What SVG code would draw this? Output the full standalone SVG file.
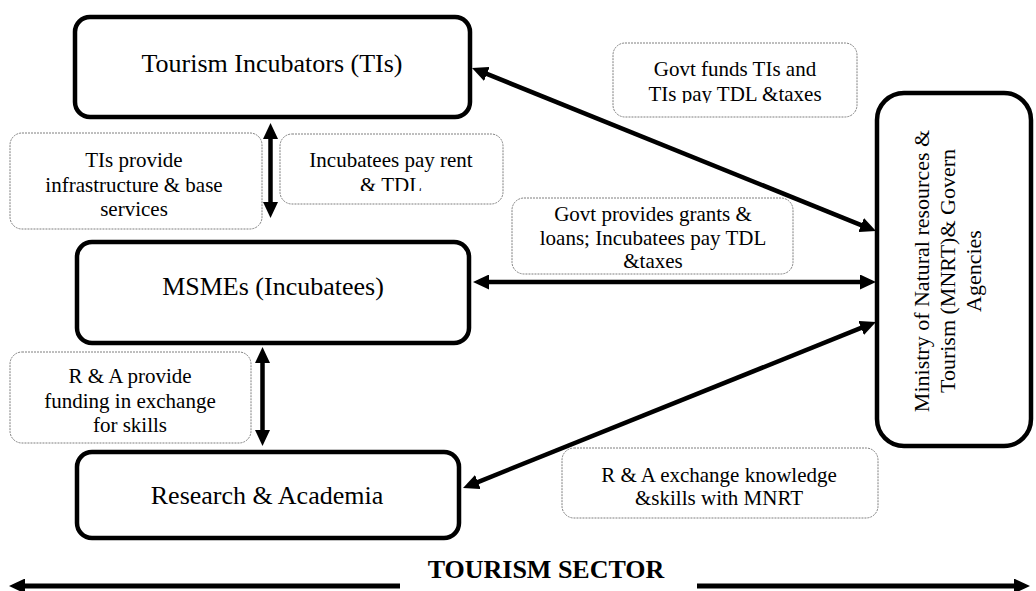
<svg xmlns="http://www.w3.org/2000/svg" width="1036" height="591" viewBox="0 0 1036 591">
<style>
.node{fill:#fff;stroke:#000;stroke-width:4.5}
.lbl{fill:#fff;stroke:#7f7f7f;stroke-width:1;stroke-dasharray:2 1}
.t{font-family:"Liberation Serif","Times New Roman",serif;fill:#000;text-anchor:middle}
.big{font-size:26px}
.sm{font-size:21px}
.min{font-size:22px}
.bold{font-size:26px;font-weight:bold}
.con{stroke:#000;stroke-width:4.5;fill:none;marker-start:url(#ah);marker-end:url(#ah)}
.one{stroke:#000;stroke-width:5;fill:none;marker-end:url(#ah)}
</style>
<defs>
<marker id="ah" markerUnits="userSpaceOnUse" markerWidth="16" markerHeight="15" refX="6" refY="7.5" orient="auto-start-reverse">
<path d="M0,0 L16,7.5 L0,15 z" fill="#000"/>
</marker>
<clipPath id="c1"><rect x="10" y="133" width="252" height="84"/></clipPath>
<clipPath id="c2"><rect x="280" y="134" width="223" height="57"/></clipPath>
<clipPath id="c3"><rect x="613" y="43" width="244" height="60"/></clipPath>
</defs>
<rect width="1036" height="591" fill="#fff"/>

<g id="label-ti-provide">
<rect class="lbl" x="10" y="133" width="252" height="96" rx="12"/>
<text class="t sm" clip-path="url(#c1)"><tspan x="134" y="167">TIs provide</tspan><tspan x="134" y="192">infrastructure &amp; base</tspan><tspan x="134" y="216">services</tspan></text>
</g>
<g id="label-rent">
<rect class="lbl" x="280" y="134" width="223" height="70" rx="12"/>
<text class="t sm" clip-path="url(#c2)"><tspan x="391" y="167">Incubatees pay rent</tspan><tspan x="391" y="192">&amp; TDL</tspan></text>
</g>
<g id="label-govt-funds">
<rect class="lbl" x="613" y="43" width="244" height="74" rx="12"/>
<text class="t sm" clip-path="url(#c3)"><tspan x="735" y="76">Govt funds TIs and</tspan><tspan x="735" y="101">TIs pay TDL &amp;taxes</tspan></text>
</g>
<g id="label-govt-grants">
<rect class="lbl" x="512" y="198" width="281" height="76" rx="12"/>
<text class="t sm"><tspan x="653" y="221">Govt provides grants &amp;</tspan><tspan x="653" y="245">loans; Incubatees pay TDL</tspan><tspan x="653" y="268">&amp;taxes</tspan></text>
</g>
<g id="label-ra-funding">
<rect class="lbl" x="10" y="352" width="241" height="91" rx="12"/>
<text class="t sm"><tspan x="130" y="383">R &amp; A provide</tspan><tspan x="130" y="408">funding in exchange</tspan><tspan x="130" y="432">for skills</tspan></text>
</g>
<g id="label-ra-exchange">
<rect class="lbl" x="562" y="448" width="316" height="70" rx="12"/>
<text class="t sm"><tspan x="719" y="482">R &amp; A exchange knowledge</tspan><tspan x="719" y="505">&amp;skills with MNRT</tspan></text>
</g>

<g id="connectors">
<line class="con" x1="270.5" y1="133" x2="270.5" y2="208"/>
<line class="con" x1="262.5" y1="357" x2="262.5" y2="436"/>
<line class="con" x1="483" y1="282" x2="866" y2="282"/>
<line class="con" x1="481.3" y1="71.7" x2="866.7" y2="227.3"/>
<line class="con" x1="472.3" y1="484.3" x2="866.7" y2="325.7"/>
<line class="one" x1="400" y1="586" x2="19" y2="586"/>
<line class="one" x1="697" y1="586" x2="1020" y2="586"/>
</g>

<g id="node-ti">
<rect class="node" x="75" y="17" width="395" height="100" rx="15"/>
<text class="t big" x="272" y="72">Tourism Incubators (TIs)</text>
</g>
<g id="node-msme">
<rect class="node" x="77" y="242" width="392" height="101" rx="15"/>
<text class="t big" x="273" y="295">MSMEs (Incubatees)</text>
</g>
<g id="node-ra">
<rect class="node" x="77" y="452" width="382" height="86" rx="15"/>
<text class="t big" x="267" y="504">Research &amp; Academia</text>
</g>
<g id="node-ministry">
<rect class="node" x="877" y="93" width="154" height="353" rx="27"/>
<text class="t min" transform="translate(929,271) rotate(-90)"><tspan x="0" y="0">Ministry of Natural resources &amp;</tspan><tspan x="0" dy="26">Tourism (MNRT)&amp; Govern</tspan><tspan x="0" dy="26">Agencies</tspan></text>
</g>
<g id="sector-label">
<text class="t bold" x="546" y="578">TOURISM SECTOR</text>
</g>
</svg>
